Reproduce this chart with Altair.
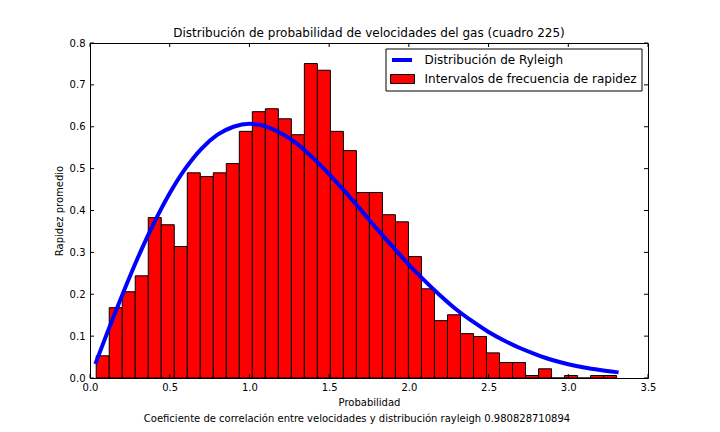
import altair as alt
import numpy as np
import pandas as pd

# histogram bins (density), 40 equal bins between the smallest and largest speed
bin_lo = 0.039
bin_hi = 3.303
heights = [
    0.053, 0.168, 0.206, 0.244, 0.383, 0.366, 0.314, 0.490, 0.481, 0.490,
    0.512, 0.589, 0.636, 0.643, 0.619, 0.581, 0.751, 0.735, 0.589, 0.543,
    0.443, 0.443, 0.390, 0.373, 0.290, 0.213, 0.137, 0.151, 0.106, 0.099,
    0.060, 0.037, 0.037, 0.006, 0.022, 0.0, 0.006, 0.0, 0.006, 0.006,
]

# fitted rayleigh curve
curve_x = [0.038, 0.1, 0.2, 0.3, 0.4, 0.5, 0.6, 0.7, 0.8, 0.9, 1.0, 1.1, 1.2,
           1.3, 1.4, 1.5, 1.6, 1.7, 1.8, 1.9, 2.0, 2.1, 2.2, 2.3, 2.4, 2.5,
           2.6, 2.7, 2.8, 2.9, 3.0, 3.1, 3.2, 3.303]
curve_y = [0.038, 0.100, 0.196, 0.287, 0.369, 0.441, 0.501, 0.548, 0.581,
           0.600, 0.607, 0.601, 0.584, 0.559, 0.525, 0.487, 0.445, 0.401,
           0.356, 0.313, 0.271, 0.232, 0.196, 0.163, 0.135, 0.110, 0.089,
           0.071, 0.056, 0.043, 0.033, 0.025, 0.019, 0.014]

x_ticks = [0.0, 0.5, 1.0, 1.5, 2.0, 2.5, 3.0, 3.5]
y_ticks = [0.0, 0.1, 0.2, 0.3, 0.4, 0.5, 0.6, 0.7, 0.8]

LINE = "Distribución de Ryleigh"
BARS = "Intervalos de frecuencia de rapidez"
NOTE = "Coeficiente de correlación entre velocidades y distribución rayleigh 0.980828710894"
FONT = "DejaVu Sans"
BLUE, RED = "#0000ff", "#ff0000"
W, H = 558, 335

edges = np.linspace(bin_lo, bin_hi, len(heights) + 1)
bars_df = pd.DataFrame({"a": edges[:-1], "b": edges[1:], "h": heights, "z": 0.0})
curve_df = pd.DataFrame({"x": curve_x, "y": curve_y})

xs = alt.Scale(domain=[0, 3.5], nice=False)
ys = alt.Scale(domain=[0, 0.8], nice=False)

bars = alt.Chart(bars_df).mark_bar(color=RED, stroke="black", strokeWidth=1).encode(
    x=alt.X("a:Q", scale=xs, axis=alt.Axis(
        title="Probabilidad", values=x_ticks, format=".1f", tickSize=0, labelFlush=False,
        domain=False, grid=False, labelPadding=4, titlePadding=5)),
    x2="b:Q",
    y=alt.Y("h:Q", scale=ys, axis=alt.Axis(
        title="Rapidez promedio", values=y_ticks, format=".1f", tickSize=0, labelFlush=False,
        domain=False, grid=False, labelPadding=5, titlePadding=5)),
    y2="z:Q",
)

line = alt.Chart(curve_df).mark_line(
    color=BLUE, strokeWidth=4, strokeCap="square", interpolate="monotone"
).encode(x=alt.X("x:Q", scale=xs), y=alt.Y("y:Q", scale=ys))

# inward ticks on all four sides, like the matplotlib frame
xt = pd.DataFrame({"t": x_ticks})
yt = pd.DataFrame({"t": y_ticks})
tick = dict(color="black", strokeWidth=1)
ticks = [
    alt.Chart(xt).mark_rule(**tick).encode(x=alt.X("t:Q", scale=xs), y=alt.value(H), y2=alt.value(H - 4)),
    alt.Chart(xt).mark_rule(**tick).encode(x=alt.X("t:Q", scale=xs), y=alt.value(0), y2=alt.value(4)),
    alt.Chart(yt).mark_rule(**tick).encode(y=alt.Y("t:Q", scale=ys), x=alt.value(0), x2=alt.value(4)),
    alt.Chart(yt).mark_rule(**tick).encode(y=alt.Y("t:Q", scale=ys), x=alt.value(W), x2=alt.value(W - 4)),
]

# legend box drawn by hand (matplotlib style: line sample + patch sample)
one = pd.DataFrame({"k": [0]})
legend = [
    alt.Chart(one).mark_rect(fill="white", stroke="black", strokeWidth=1).encode(
        x=alt.value(296), x2=alt.value(552), y=alt.value(6), y2=alt.value(48)),
    alt.Chart(one).mark_rule(color=BLUE, strokeWidth=4).encode(
        x=alt.value(302), x2=alt.value(322), y=alt.value(17)),
    alt.Chart(one).mark_rect(fill=RED, stroke="black", strokeWidth=1).encode(
        x=alt.value(300.5), x2=alt.value(324.5), y=alt.value(31.5), y2=alt.value(40.5)),
    alt.Chart(pd.DataFrame({"txt": [LINE]})).mark_text(
        font=FONT, fontSize=12, color="black", align="left", baseline="middle").encode(
        text="txt:N", x=alt.value(334.5), y=alt.value(17)),
    alt.Chart(pd.DataFrame({"txt": [BARS]})).mark_text(
        font=FONT, fontSize=12, color="black", align="left", baseline="middle").encode(
        text="txt:N", x=alt.value(334.5), y=alt.value(36)),
]

note = alt.Chart(pd.DataFrame({"txt": [NOTE]})).mark_text(
    font=FONT, fontSize=10, color="black", baseline="middle"
).encode(text="txt:N", x=alt.value(W / 2 - 12), y=alt.value(H + 41))

chart = alt.layer(bars, line, *ticks, *legend, note).properties(
    width=W, height=H,
    title=alt.TitleParams(
        "Distribución de probabilidad de velocidades del gas (cuadro 225)",
        font=FONT, fontSize=12, fontWeight="normal", color="black", offset=-2,
    ),
    autosize=alt.AutoSizeParams(type="none"),
    padding={"left": 82, "top": 35, "right": 62, "bottom": 46},
).configure(
    background="white",
).configure_view(
    stroke="black", strokeWidth=1,
).configure_axis(
    labelFont=FONT, labelFontSize=10, labelColor="black",
    titleFont=FONT, titleFontSize=10, titleFontWeight="normal", titleColor="black",
)

chart.save("out.html", embed_options={"renderer": "svg", "actions": False})
